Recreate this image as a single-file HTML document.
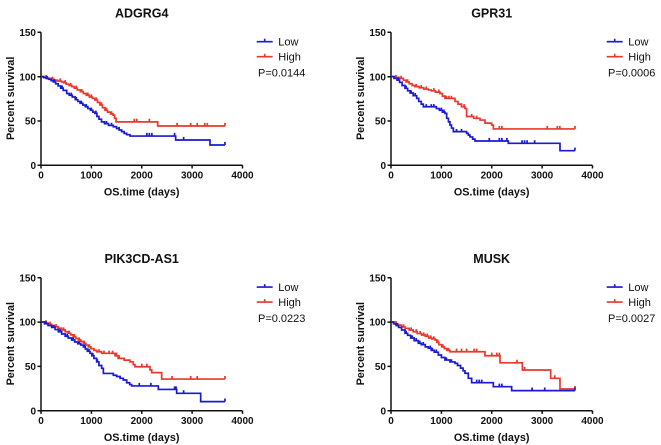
<!DOCTYPE html>
<html><head><meta charset="utf-8"><style>
html,body{margin:0;padding:0;background:#fff;}
svg{display:block;}
text{font-family:"Liberation Sans",Arial,sans-serif;fill:#111;}
.tl{font-size:10px;font-weight:bold;}
.at{font-size:10.8px;font-weight:bold;}
.tt{font-size:12.5px;font-weight:bold;}
.lg{font-size:11px;}
.ax{stroke:#111;stroke-width:1.5;fill:none;}
.b{stroke:#1a1ad2;fill:none;stroke-width:1.7;vector-effect:non-scaling-stroke;}
.r{stroke:#e8392c;fill:none;stroke-width:1.7;vector-effect:non-scaling-stroke;}
</style></head><body>
<svg width="661" height="445" viewBox="0 0 661 445" xmlns="http://www.w3.org/2000/svg">
<defs>
<g id="axes">
  <path class="ax" d="M41 32.3 V165.3 H242.5"/>
  <path class="ax" d="M37.5 32.3 H41 M37.5 76.7 H41 M37.5 121 H41 M37.5 165.3 H41"/>
  <path class="ax" d="M41 165.3 V168.5 M91.4 165.3 V168.5 M141.75 165.3 V168.5 M192.1 165.3 V168.5 M242.5 165.3 V168.5"/>
  <text class="tl" x="36" y="36" text-anchor="end">150</text>
  <text class="tl" x="36" y="80.3" text-anchor="end">100</text>
  <text class="tl" x="36" y="124.6" text-anchor="end">50</text>
  <text class="tl" x="36" y="169" text-anchor="end">0</text>
  <text class="tl" x="41" y="178.5" text-anchor="middle">0</text>
  <text class="tl" x="91.4" y="178.5" text-anchor="middle">1000</text>
  <text class="tl" x="141.75" y="178.5" text-anchor="middle">2000</text>
  <text class="tl" x="192.1" y="178.5" text-anchor="middle">3000</text>
  <text class="tl" x="242.5" y="178.5" text-anchor="middle">4000</text>
  <text class="at" x="141.7" y="195.5" text-anchor="middle">OS.time (days)</text>
  <text class="at" transform="translate(13.8 98.3) rotate(-90)" text-anchor="middle">Percent survival</text>
  <path d="M256.7 41.7 H272.7 M264.7 41.7 V38.7" stroke="#1a1ad2" stroke-width="1.6" fill="none"/>
  <path d="M256.7 56.7 H272.7 M264.7 56.7 V53.7" stroke="#e8392c" stroke-width="1.6" fill="none"/>
  <text class="lg" x="278.3" y="45.7">Low</text>
  <text class="lg" x="278.3" y="60.5">High</text>
</g>
</defs>

<!-- Panel 1 -->
<g>
  <use href="#axes"/>
  <text class="tt" x="141.7" y="17.5" text-anchor="middle">ADGRG4</text>
  <text class="lg" x="258" y="76.7">P=0.0144</text>
  <g transform="translate(41 165.3) scale(0.0504 -0.8867)">
    <path class="r" d="M0,100 H60 V99 H130 V98 H200 V97 H260 V96 H330 V95 H410 V94 H450 V93 H500 V91.5 H560 V90 H610 V88.7 H660 V87 H720 V85 H780 V83 H840 V81 H900 V79 H960 V77 H1020 V75.5 H1070 V73.6 H1120 V71 H1170 V68 H1220 V65 H1270 V62 H1320 V60 H1380 V58 H1430 V56.6 H1460 V53 H1490 V49 H2315 V44.3 H3650 M1850,49 v3.5 M1900,49 v3.5 M2150,49 v3.5 M2700,44.3 v3.5 M2970,44.3 v3.5 M3100,44.3 v3.5 M3250,44.3 v3.5 M3300,44.3 v3.5 M3650,44.3 v3.5
    M100,99 v3 M230,97 v3 M380,95 v3 M480,93 v3 M590,90 v3 M700,87 v3 M810,83 v3 M930,79 v3 M1000,77 v3 M1100,73.6 v3 M1200,68 v3 M1300,62 v3 M1400,58 v3"/>
    <path class="b" d="M0,100 H50 V99 H100 V98 H150 V97 H200 V95.5 H245 V94 H290 V92 H340 V89.5 H390 V87 H440 V84.5 H510 V81 H560 V79 H620 V77 H680 V74 H730 V72 H775 V70 H830 V68 H880 V66 H930 V64 H980 V62 H1030 V60 H1070 V58.6 H1110 V55 H1150 V52 H1200 V49 H1260 V47 H1340 V45 H1435 V43.5 H1500 V41.5 H1550 V39.8 H1600 V38 H1650 V36 H1700 V34.5 H1766 V33 H2672 V28.5 H3353 V22.9 H3650 M1550,39.8 v3.5 M2100,33 v3.5 M2150,33 v3.5 M2200,33 v3.5 M2650,33 v3.5 M2830,28.5 v3.5 M3650,22.9 v3.5
    M120,98 v3 M270,94 v3 M420,87 v3 M600,79 v3 M700,74 v3 M800,70 v3 M900,66 v3 M1000,62 v3 M1090,58.6 v3 M1300,47 v3 M1400,45 v3"/>
  </g>
</g>

<!-- Panel 2 -->
<g transform="translate(350 0)">
  <use href="#axes"/>
  <text class="tt" x="141.7" y="17.5" text-anchor="middle">GPR31</text>
  <text class="lg" x="258" y="76.7">P=0.0006</text>
  <g transform="translate(41 165.3) scale(0.0504 -0.8867)">
    <path class="r" d="M0,100 H80 V99 H160 V98 H245 V96 H300 V94 H360 V92 H420 V90 H476 V88.7 H560 V87.5 H650 V86 H740 V85 H800 V84 H880 V82.5 H972 V81 H1020 V78 H1071 V75.5 H1270 V72 H1330 V69 H1400 V66 H1468 V64 H1500 V55 H1640 V53 H1766 V51 H1865 V47.6 H1997 V45.4 H2030 V41 H3650 M2150,41 v3.5 M2200,41 v3.5 M3100,41 v3.5 M3300,41 v3.5 M3350,41 v3.5 M3650,41 v3.5
    M100,99 v3 M200,98 v3 M330,94 v3 M500,88.7 v3 M600,87.5 v3 M700,86 v3 M850,84 v3 M950,82.5 v3 M1100,75.5 v3 M1150,75.5 v3 M1200,75.5 v3 M1450,66 v3 M1600,55 v3 M1700,53 v3"/>
    <path class="b" d="M0,100 H60 V98 H120 V96 H170 V93.5 H220 V90 H278 V86.8 H330 V84 H380 V81.5 H440 V78.5 H510 V75.5 H550 V72 H600 V69 H641 V66 H900 V64 H960 V62 H1020 V60 H1071 V58.6 H1105 V53 H1140 V49 H1170 V45.4 H1200 V42 H1237 V38 H1500 V36 H1535 V34 H1567 V32 H1620 V29.5 H1667 V27.4 H2328 V24.8 H3353 V16.5 H3650 M1950,27.4 v3.5 M2150,27.4 v3.5 M2200,27.4 v3.5 M2300,27.4 v3.5 M2600,24.8 v3.5 M2650,24.8 v3.5 M2700,24.8 v3.5 M2850,24.8 v3.5 M3650,16.5 v3.5
    M150,96 v3 M300,86.8 v3 M400,81.5 v3 M480,78.5 v3 M700,66 v3 M800,66 v3 M850,66 v3 M1000,62 v3 M1050,60 v3 M1300,38 v3 M1400,38 v3"/>
  </g>
</g>

<!-- Panel 3 -->
<g transform="translate(0 245.4)">
  <use href="#axes"/>
  <text class="tt" x="141.7" y="17.5" text-anchor="middle">PIK3CD-AS1</text>
  <text class="lg" x="258" y="76.7">P=0.0223</text>
  <g transform="translate(41 165.3) scale(0.0504 -0.8867)">
    <path class="r" d="M0,100 H70 V99 H140 V97.5 H210 V96 H278 V94.7 H340 V93 H410 V91 H480 V89 H542 V87.3 H590 V85.5 H640 V83.5 H690 V81.5 H741 V79.7 H790 V78 H840 V76 H890 V74 H940 V72 H990 V70 H1050 V68 H1104 V66.5 H1204 V64.7 H1468 V62 H1530 V59 H1650 V57 H1766 V55 H1830 V52 H1865 V49.6 H2163 V46 H2196 V42.9 H2394 V35.7 H3650 M1500,62 v3.5 M1550,59 v3.5 M2000,49.6 v3.5 M2100,49.6 v3.5 M2600,35.7 v3.5 M2970,35.7 v3.5 M3100,35.7 v3.5 M3650,35.7 v3.5
    M100,99 v3 M180,97.5 v3 M300,94.7 v3 M450,91 v3 M560,87.3 v3 M660,83.5 v3 M760,79.7 v3 M860,76 v3 M960,72 v3 M1150,66.5 v3 M1250,64.7 v3 M1350,64.7 v3 M1420,64.7 v3"/>
    <path class="b" d="M0,100 H70 V98 H140 V96 H210 V94 H280 V91.5 H344 V89 H410 V86.5 H480 V84 H540 V82 H608 V79.7 H670 V77.5 H730 V75.5 H790 V74 H840 V72 H880 V69.5 H920 V67 H972 V64.7 H1010 V62 H1050 V59 H1104 V55 H1150 V51 H1204 V47.8 H1237 V42 H1435 V40 H1500 V38.6 H1570 V36.5 H1633 V34.6 H1700 V31.5 H1760 V29.5 H1799 V27.9 H2328 V24 H2692 V19.6 H3168 V10.2 H3650 M1950,27.9 v3.5 M2180,27.9 v3.5 M2650,24 v3.5 M2680,24 v3.5 M2830,19.6 v3.5 M3650,10.2 v3.5
    M100,98 v3 M250,94 v3 M380,89 v3 M520,84 v3 M640,79.7 v3 M760,75.5 v3 M860,72 v3 M950,67 v3 M1030,62 v3 M1120,55 v3"/>
  </g>
</g>

<!-- Panel 4 -->
<g transform="translate(350 245.4)">
  <use href="#axes"/>
  <text class="tt" x="141.7" y="17.5" text-anchor="middle">MUSK</text>
  <text class="lg" x="258" y="76.7">P=0.0027</text>
  <g transform="translate(41 165.3) scale(0.0504 -0.8867)">
    <path class="r" d="M0,100 H70 V98 H140 V96.5 H210 V94.5 H278 V92.9 H360 V91 H440 V89 H520 V87 H608 V85.4 H680 V84 H750 V82 H810 V81 H873 V79.7 H910 V77 H950 V74.5 H1005 V72 H1060 V70 H1110 V68 H1170 V66.5 H1865 V62 H2163 V54 H2606 V45.9 H3168 V36.5 H3353 V24.5 H3650 M1300,66.5 v3.5 M1400,66.5 v3.5 M1500,66.5 v3.5 M1650,66.5 v3.5 M1700,66.5 v3.5 M2000,62 v3.5 M2100,62 v3.5 M2150,62 v3.5 M2500,54 v3.5 M2650,45.9 v3.5 M3250,36.5 v3.5 M3650,24.5 v3.5
    M100,98 v3 M250,94.5 v3 M400,91 v3 M500,89 v3 M580,87 v3 M650,85.4 v3 M720,84 v3 M790,82 v3 M850,81 v3 M930,77 v3 M1030,72 v3 M1140,68 v3"/>
    <path class="b" d="M0,100 H50 V98 H100 V96 H150 V94 H210 V91 H278 V87.3 H330 V85 H390 V82 H460 V79 H542 V76 H600 V74.5 H680 V72 H741 V70.4 H800 V68 H860 V66 H939 V62.8 H1000 V60 H1071 V57.2 H1170 V55 H1270 V53.4 H1320 V51 H1380 V48 H1430 V45 H1468 V42.2 H1534 V36.5 H1600 V31.6 H2030 V27.1 H2394 V22.6 H3650 M1700,31.6 v3.5 M1750,31.6 v3.5 M1800,31.6 v3.5 M2150,27.1 v3.5 M2200,27.1 v3.5 M2800,22.6 v3.5 M3050,22.6 v3.5 M3650,22.6 v3.5
    M120,96 v3 M300,87.3 v3 M420,82 v3 M500,79 v3 M570,76 v3 M640,74.5 v3 M780,70.4 v3 M820,68 v3 M900,66 v3 M1100,57.2 v3 M1200,55 v3"/>
  </g>
</g>
</svg>
</body></html>
